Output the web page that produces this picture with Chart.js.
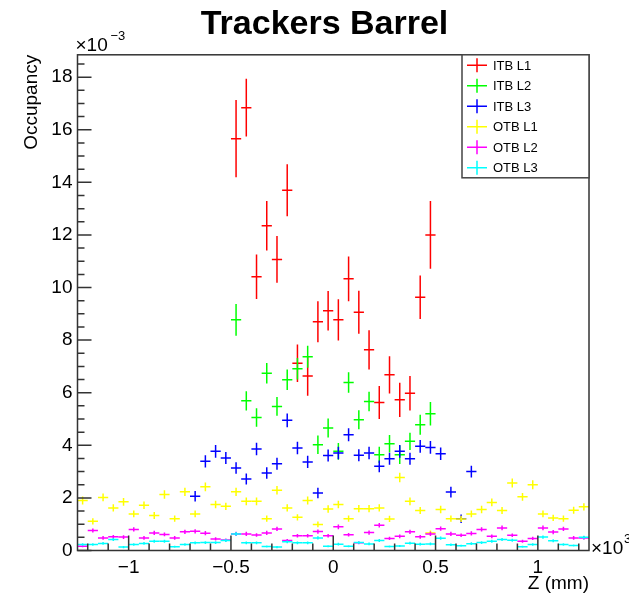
<!DOCTYPE html>
<html>
<head>
<meta charset="utf-8">
<script src="https://cdn.jsdelivr.net/npm/chart.js@4.4.1/dist/chart.umd.min.js"></script>
<style>
  html, body { margin: 0; padding: 0; background: #fff; }
  #chart { display: block; }
</style>
</head>
<body>
<canvas id="chart" width="629" height="599"></canvas>
<script>
// bin centres along Z (x10^3 mm), 50 bins of 0.05
var binCenters = [
  -1.225, -1.175, -1.125, -1.075, -1.025, -0.975, -0.925, -0.875, -0.825, -0.775,
  -0.725, -0.675, -0.625, -0.575, -0.525, -0.475, -0.425, -0.375, -0.325, -0.275,
  -0.225, -0.175, -0.125, -0.075, -0.025, 0.025, 0.075, 0.125, 0.175, 0.225,
  0.275, 0.325, 0.375, 0.425, 0.475, 0.525, 0.575, 0.625, 0.675, 0.725,
  0.775, 0.825, 0.875, 0.925, 0.975, 1.025, 1.075, 1.125, 1.175, 1.225
];
var halfBin = 0.025;

// occupancy, x10^-3 (null = empty bin)
var itbL1 = [
  null, null, null, null, null, null, null, null, null, null,
  null, null, null, null, null, 15.66, 16.84, 10.41, 12.35, 11.07,
  13.70, 7.12, 6.64, 8.70, 9.12, 8.77, 10.33, 9.06, 7.63, 5.63,
  6.68, 5.73, 5.98, 9.63, 12.00, null, null, null, null, null,
  null, null, null, null, null, null, null, null, null, null
];
var itbL1Err = [
  0, 0, 0, 0, 0, 0, 0, 0, 0, 0,
  0, 0, 0, 0, 0, 1.47, 1.10, 0.85, 0.94, 0.89,
  0.99, 0.71, 0.76, 0.78, 0.75, 0.78, 0.85, 0.82, 0.75, 0.63,
  0.71, 0.65, 0.66, 0.83, 1.29, 0, 0, 0, 0, 0,
  0, 0, 0, 0, 0, 0, 0, 0, 0, 0
];
var itbL2 = [
  null, null, null, null, null, null, null, null, null, null,
  null, null, null, null, null, 8.77, 5.69, 5.06, 6.74, 5.48,
  6.49, 6.91, 7.37, 4.02, 4.66, 3.77, 6.39, 4.97, 5.67, 3.64,
  4.06, 3.64, 4.15, 4.78, 5.20, null, null, null, null, null,
  null, null, null, null, null, null, null, null, null, null
];
var itbL2Err = [
  0, 0, 0, 0, 0, 0, 0, 0, 0, 0,
  0, 0, 0, 0, 0, 0.60, 0.37, 0.35, 0.39, 0.36,
  0.39, 0.41, 0.42, 0.35, 0.36, 0.32, 0.39, 0.36, 0.37, 0.31,
  0.33, 0.35, 0.33, 0.38, 0.45, 0, 0, 0, 0, 0,
  0, 0, 0, 0, 0, 0, 0, 0, 0, 0
];
var itbL3 = [
  null, null, null, null, null, null, null, null, null, null,
  null, 2.06, 3.39, 3.77, 3.52, 3.14, 2.72, 3.86, 2.95, 3.30,
  4.95, 3.90, 3.37, 2.19, 3.61, 3.71, 4.40, 3.62, 3.71, 3.20,
  3.49, 3.77, 3.49, 3.96, 3.92, 3.68, 2.22, 1.21, 3.00, null,
  null, null, null, null, null, null, null, null, null, null
];
var itbL3Err = [
  0, 0, 0, 0, 0, 0, 0, 0, 0, 0,
  0, 0.20, 0.23, 0.24, 0.23, 0.22, 0.21, 0.24, 0.22, 0.23,
  0.26, 0.24, 0.23, 0.20, 0.23, 0.24, 0.25, 0.23, 0.24, 0.22,
  0.23, 0.24, 0.23, 0.24, 0.24, 0.24, 0.20, 0.16, 0.22, 0,
  0, 0, 0, 0, 0, 0, 0, 0, 0, 0
];
var otbL1 = [
  1.90, 1.11, 2.02, 1.62, 1.85, 1.39, 1.72, 1.33, 2.13, 1.21,
  2.23, 1.39, 2.42, 1.75, 1.68, 2.23, 1.87, 1.87, 1.21, 2.29,
  1.62, 1.26, 1.90, 0.99, 1.58, 1.75, 1.21, 1.59, 1.59, 1.62,
  1.20, 2.78, 1.87, 1.52, 0.67, 1.56, 1.21, 1.20, 1.39, 1.56,
  1.83, 1.52, 2.57, 2.04, 2.50, 1.39, 1.24, 1.21, 1.53, 1.66
];
var otbL1Err = [
  0.15, 0.12, 0.15, 0.14, 0.15, 0.13, 0.14, 0.13, 0.16, 0.12,
  0.16, 0.13, 0.17, 0.14, 0.14, 0.16, 0.15, 0.15, 0.12, 0.16,
  0.14, 0.12, 0.15, 0.11, 0.14, 0.14, 0.12, 0.14, 0.14, 0.14,
  0.12, 0.18, 0.15, 0.13, 0.09, 0.14, 0.12, 0.12, 0.13, 0.14,
  0.15, 0.13, 0.17, 0.15, 0.17, 0.13, 0.12, 0.12, 0.13, 0.14
];
var otbL2 = [
  0.16, 0.76, 0.48, 0.52, 0.51, 0.80, 0.48, 0.67, 0.61, 0.48,
  0.71, 0.73, 0.66, 0.44, 0.40, 0.63, 0.63, 0.59, 0.67, 0.82,
  0.38, 0.56, 0.56, 0.72, 0.56, 0.90, 0.60, 0.29, 0.68, 0.96,
  0.46, 0.54, 0.71, 0.52, 0.63, 0.83, 0.63, 0.58, 0.65, 0.80,
  0.54, 0.86, 0.58, 0.35, 0.46, 0.86, 0.70, 0.82, 0.48, 0.48
];
var otbL2Err = [
  0.04, 0.08, 0.07, 0.07, 0.07, 0.08, 0.07, 0.08, 0.07, 0.07,
  0.08, 0.08, 0.08, 0.06, 0.06, 0.08, 0.08, 0.07, 0.08, 0.08,
  0.06, 0.07, 0.07, 0.08, 0.07, 0.09, 0.07, 0.05, 0.08, 0.09,
  0.06, 0.07, 0.08, 0.07, 0.08, 0.08, 0.08, 0.07, 0.08, 0.08,
  0.07, 0.09, 0.07, 0.06, 0.06, 0.09, 0.08, 0.08, 0.07, 0.07
];
var otbL3 = [
  0.23, 0.23, 0.27, 0.42, 0.13, 0.23, 0.27, 0.35, 0.35, 0.14,
  0.23, 0.29, 0.30, 0.30, 0.38, 0.63, 0.29, 0.29, 0.15, 0.13,
  0.33, 0.29, 0.29, 0.48, 0.16, 0.24, 0.16, 0.30, 0.25, 0.38,
  0.15, 0.17, 0.28, 0.24, 0.25, 0.47, 0.22, 0.18, 0.26, 0.30,
  0.35, 0.42, 0.39, 0.14, 0.23, 0.51, 0.37, 0.23, 0.19, 0.50
];
var otbL3Err = [
  0.05, 0.05, 0.05, 0.06, 0.04, 0.05, 0.05, 0.06, 0.06, 0.04,
  0.05, 0.05, 0.05, 0.05, 0.06, 0.07, 0.05, 0.05, 0.04, 0.04,
  0.05, 0.05, 0.05, 0.06, 0.04, 0.05, 0.04, 0.05, 0.05, 0.06,
  0.04, 0.04, 0.05, 0.05, 0.05, 0.06, 0.05, 0.04, 0.05, 0.05,
  0.06, 0.06, 0.06, 0.04, 0.05, 0.06, 0.06, 0.05, 0.04, 0.06
];

var xTicks = [-1, -0.5, 0, 0.5, 1];
var yTicks = [0, 2, 4, 6, 8, 10, 12, 14, 16, 18];

var fontFamily = "'Liberation Sans', Arial, Helvetica, sans-serif";

function makeDataset(label, color, values, errors) {
  var pts = [], errs = [];
  for (var i = 0; i < binCenters.length; i++) {
    if (values[i] === null) continue;
    pts.push({x: binCenters[i], y: values[i]});
    errs.push(errors[i]);
  }
  return {
    label: label,
    data: pts,
    errors: errs,
    borderColor: color,
    backgroundColor: color,
    pointRadius: 0,
    showLine: false
  };
}

function fmtX(v) {
  if (v < 0) return '\u2212' + Math.abs(v);
  return String(v);
}

// draws the ROOT-like crosses, inward ticks, frame, exponents and legend box
var rootStyle = {
  id: 'rootStyle',
  afterDatasetsDraw: function(chart) {
    var ctx = chart.ctx, xs = chart.scales.x, ys = chart.scales.y;
    var area = chart.chartArea;
    ctx.save();
    ctx.beginPath();
    ctx.rect(area.left, area.top, area.right - area.left, area.bottom - area.top);
    ctx.clip();
    chart.data.datasets.forEach(function(ds) {
      ctx.strokeStyle = ds.borderColor;
      ctx.lineWidth = 1.5;
      ds.data.forEach(function(p, k) {
        var e = ds.errors[k];
        var px = xs.getPixelForValue(p.x), py = ys.getPixelForValue(p.y);
        ctx.beginPath();
        ctx.moveTo(xs.getPixelForValue(p.x - halfBin), py);
        ctx.lineTo(xs.getPixelForValue(p.x + halfBin), py);
        ctx.moveTo(px, ys.getPixelForValue(p.y - e));
        ctx.lineTo(px, ys.getPixelForValue(p.y + e));
        ctx.stroke();
      });
    });
    ctx.restore();
  },
  afterDraw: function(chart) {
    var ctx = chart.ctx, xs = chart.scales.x, ys = chart.scales.y;
    var area = chart.chartArea;
    ctx.save();
    ctx.strokeStyle = '#333';
    ctx.lineWidth = 1.5;
    ctx.strokeRect(area.left, area.top, area.right - area.left, area.bottom - area.top);

    // y ticks every 0.5, major every 2
    ctx.beginPath();
    for (var k = 0; k <= 37; k++) {
      var v = k / 2;
      var y = ys.getPixelForValue(v);
      var len = (k % 4 === 0) ? 14 : 7;
      ctx.moveTo(area.left, y);
      ctx.lineTo(area.left + len, y);
    }
    // x ticks every 0.1, major every 0.5
    for (var j = -12; j <= 12; j++) {
      var x = xs.getPixelForValue(j / 10);
      var l = (j % 5 === 0) ? 15 : 7;
      ctx.moveTo(x, area.bottom);
      ctx.lineTo(x, area.bottom - l);
    }
    ctx.stroke();

    // exponent labels
    ctx.fillStyle = '#000';
    ctx.textBaseline = 'middle';
    ctx.textAlign = 'left';
    ctx.font = '19px ' + fontFamily;
    ctx.fillText('\u00d710', area.left - 2, area.top - 9);
    ctx.fillText('\u00d710', area.right + 2, area.bottom - 2);
    ctx.font = '13px ' + fontFamily;
    ctx.fillText('\u22123', area.left + 33, area.top - 18);
    ctx.fillText('3', area.right + 35, area.bottom - 11);

    // legend box in the top-right corner
    var bx = area.right - 127, by = area.top, bw = 127, bh = 123;
    ctx.fillStyle = '#fff';
    ctx.fillRect(bx, by, bw, bh);
    ctx.strokeStyle = '#444';
    ctx.lineWidth = 1.5;
    ctx.strokeRect(bx, by, bw, bh);
    ctx.font = '13px ' + fontFamily;
    chart.data.datasets.forEach(function(ds, i) {
      var cy = by + 10.5 + i * 20.5;
      var cx = bx + 15;
      ctx.strokeStyle = ds.borderColor;
      ctx.lineWidth = 1.5;
      ctx.beginPath();
      ctx.moveTo(cx - 10, cy);
      ctx.lineTo(cx + 10, cy);
      ctx.moveTo(cx, cy - 7);
      ctx.lineTo(cx, cy + 7);
      ctx.stroke();
      ctx.fillStyle = '#000';
      ctx.fillText(ds.label, bx + 31, cy + 1);
    });
    ctx.restore();
  }
};

function main() {
  var datasets = [
    makeDataset('ITB L1', '#ff0000', itbL1, itbL1Err),
    makeDataset('ITB L2', '#00ff00', itbL2, itbL2Err),
    makeDataset('ITB L3', '#0000ff', itbL3, itbL3Err),
    makeDataset('OTB L1', '#ffff00', otbL1, otbL1Err),
    makeDataset('OTB L2', '#ff00ff', otbL2, otbL2Err),
    makeDataset('OTB L3', '#00ffff', otbL3, otbL3Err)
  ];

  new Chart(document.getElementById('chart'), {
    type: 'scatter',
    data: {datasets: datasets},
    plugins: [rootStyle],
    options: {
      responsive: false,
      animation: false,
      layout: {padding: {left: 20, right: 0, top: 0, bottom: 0}},
      plugins: {
        legend: {display: false},
        tooltip: {enabled: false},
        title: {
          display: true,
          text: 'Trackers Barrel',
          color: '#000',
          font: {family: fontFamily, size: 34, weight: 'bold'},
          padding: {top: 4, bottom: 10}
        }
      },
      scales: {
        x: {
          type: 'linear',
          min: -1.25,
          max: 1.25,
          grid: {display: false, drawTicks: false},
          border: {display: false},
          afterBuildTicks: function(s) { s.ticks = xTicks.map(function(v) { return {value: v}; }); },
          afterFit: function(s) { s.height = 48.5; },
          ticks: {
            autoSkip: false, maxRotation: 0, padding: 6, color: '#000',
            font: {family: fontFamily, size: 19},
            callback: function(v) { return fmtX(v); }
          },
          title: {
            display: true, text: 'Z (mm)', align: 'end', color: '#000',
            font: {family: fontFamily, size: 19},
            padding: {top: 0, bottom: 4}
          }
        },
        y: {
          type: 'linear',
          min: 0,
          max: 18.85,
          grid: {display: false, drawTicks: false},
          border: {display: false},
          afterBuildTicks: function(s) { s.ticks = yTicks.map(function(v) { return {value: v}; }); },
          afterFit: function(s) { s.width = 57.5; },
          ticks: {
            autoSkip: false, padding: 5, color: '#000',
            font: {family: fontFamily, size: 19}
          },
          title: {
            display: true, text: 'Occupancy', align: 'end', color: '#000',
            font: {family: fontFamily, size: 19},
            padding: {top: 0, bottom: 0}
          }
        },
        yRight: {
          position: 'right',
          display: true,
          grid: {display: false, drawTicks: false},
          border: {display: false},
          ticks: {display: false},
          afterFit: function(s) { s.width = 40; }
        }
      }
    }
  });
}

main();
</script>
</body>
</html>
